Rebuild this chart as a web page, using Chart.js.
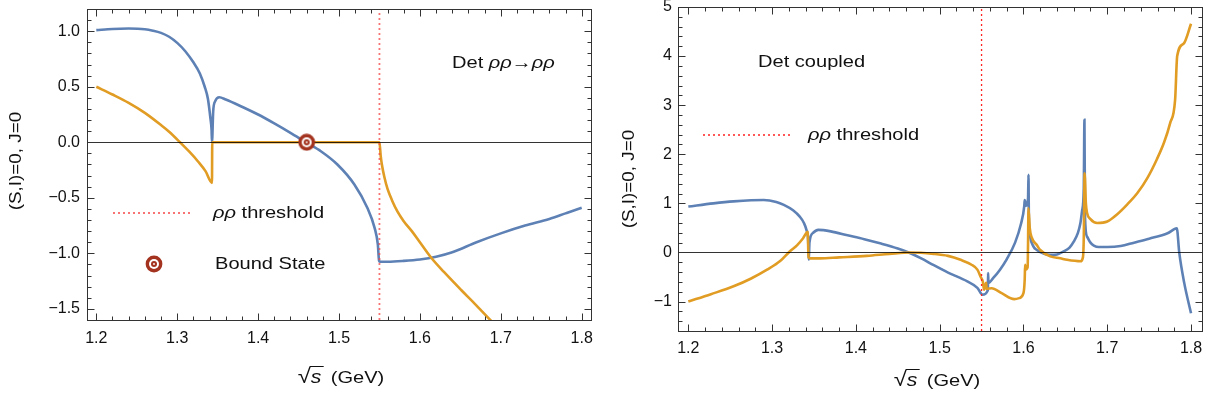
<!DOCTYPE html>
<html>
<head>
<meta charset="utf-8">
<script src="https://cdn.jsdelivr.net/npm/chart.js@4.4.0/dist/chart.umd.min.js"></script>
<style>
  body { margin: 0; background: #fff; }
  #wrap { position: relative; width: 1213px; height: 407px; }
  .panel { position: absolute; top: 0; height: 407px; }
</style>
</head>
<body>
<div id="wrap">
  <div class="panel" style="left:0;width:600px"><canvas id="leftChart"></canvas></div>
  <div class="panel" style="left:600px;width:613px"><canvas id="rightChart"></canvas></div>
</div>
<script>
// ---- data ----
const xTicks = [1.2, 1.3, 1.4, 1.5, 1.6, 1.7, 1.8];
const leftYTicks = [-1.5, -1.0, -0.5, 0.0, 0.5, 1.0];
const rightYTicks = [-1, 0, 1, 2, 3, 4, 5];
const threshold = 1.55;
const boundState = [1.46, 0];

// left panel: Det rho rho -> rho rho
const leftBlueX = [1.2, 1.22, 1.24, 1.26, 1.27, 1.28, 1.29, 1.30, 1.31, 1.32, 1.328, 1.334, 1.338, 1.341, 1.3425, 1.343,
  1.3445, 1.347, 1.352, 1.36, 1.38, 1.40, 1.42, 1.44, 1.459, 1.478, 1.498, 1.519, 1.535, 1.544, 1.548, 1.5495,
  1.5505, 1.56, 1.58, 1.60, 1.62, 1.64, 1.67, 1.70, 1.73, 1.76, 1.78, 1.80];
const leftBlueY = [1.01, 1.02, 1.024, 1.018, 1.005, 0.985, 0.95, 0.895, 0.82, 0.72, 0.62, 0.50, 0.39, 0.22, 0.11, 0.0,
  0.28, 0.37, 0.405, 0.385, 0.32, 0.25, 0.17, 0.085, 0.0, -0.083, -0.20, -0.38, -0.59, -0.77, -0.92, -1.065,
  -1.075, -1.075, -1.068, -1.055, -1.03, -0.99, -0.90, -0.82, -0.75, -0.69, -0.64, -0.59];
const leftOrangeX = [1.2, 1.22, 1.24, 1.26, 1.28, 1.29, 1.3035, 1.315, 1.326, 1.335, 1.343, 1.3433,
  1.40, 1.50, 1.55, 1.5515, 1.553, 1.556, 1.56, 1.566, 1.572, 1.58, 1.59, 1.60, 1.614, 1.63, 1.651, 1.67, 1.687, 1.70];
const leftOrangeY = [0.5, 0.43, 0.355, 0.265, 0.155, 0.095, 0.0, -0.085, -0.175, -0.26, -0.365, 0.0,
  0.0, 0.0, 0.0, -0.12, -0.2, -0.31, -0.42, -0.53, -0.62, -0.71, -0.80, -0.90, -1.04, -1.17, -1.33, -1.47, -1.6, -1.70];

// right panel: Det coupled
const rightBlueX = [1.2, 1.23, 1.254, 1.29, 1.305, 1.314, 1.325, 1.333, 1.338, 1.341, 1.343, 1.3438, 1.3446,
  1.349, 1.355, 1.37, 1.39, 1.41, 1.43, 1.45, 1.463, 1.478, 1.493, 1.51, 1.533, 1.545, 1.551, 1.5575, 1.5578,
  1.5582, 1.564, 1.572, 1.58, 1.59, 1.597, 1.601, 1.6015, 1.603, 1.6055, 1.606, 1.6065, 1.608, 1.612, 1.616,
  1.624, 1.632, 1.64, 1.648, 1.655, 1.66, 1.665, 1.668, 1.67, 1.672, 1.6728, 1.6735, 1.676, 1.68, 1.684,
  1.69, 1.70, 1.716, 1.732, 1.75, 1.772, 1.783, 1.786, 1.792, 1.80];
const rightBlueY = [0.935, 1.0, 1.04, 1.07, 1.03, 0.97, 0.86, 0.73, 0.6, 0.46, 0.26, -0.15, 0.2,
  0.40, 0.46, 0.43, 0.35, 0.27, 0.18, 0.08, 0.0, -0.12, -0.26, -0.41, -0.59, -0.72, -0.86, -0.77, -0.42,
  -0.62, -0.52, -0.35, -0.14, 0.2, 0.58, 0.95, 1.07, 0.95, 1.1, 1.58, 0.7, 0.32, 0.12, 0.05,
  -0.02, -0.05, -0.04, 0.02, 0.1, 0.22, 0.4, 0.6, 0.85, 1.3, 2.70, 0.7, 0.32, 0.2, 0.14,
  0.11, 0.11, 0.13, 0.2, 0.28, 0.39, 0.49, -0.01, -0.63, -1.24];
const rightOrangeX = [1.2, 1.227, 1.254, 1.275, 1.294, 1.31, 1.321, 1.33, 1.337, 1.3425, 1.3435, 1.345,
  1.357, 1.38, 1.413, 1.44, 1.465, 1.493, 1.51, 1.525, 1.538, 1.545, 1.549, 1.5515, 1.553, 1.5555, 1.556,
  1.562, 1.574, 1.589, 1.595, 1.60, 1.6015, 1.602, 1.6025, 1.605, 1.6055, 1.606, 1.6075, 1.61, 1.616,
  1.62, 1.632, 1.644, 1.652, 1.668, 1.671, 1.672, 1.673, 1.6745, 1.676, 1.68, 1.688, 1.70, 1.712, 1.724,
  1.736, 1.748, 1.759, 1.768, 1.775, 1.781, 1.7835, 1.7915, 1.80];
const rightOrangeY = [-1.0, -0.85, -0.69, -0.53, -0.35, -0.17, 0.02, 0.15, 0.29, 0.42, -0.1, -0.12,
  -0.12, -0.1, -0.07, -0.03, 0.0, -0.03, -0.07, -0.15, -0.25, -0.35, -0.5, -0.59, -0.76, -0.62, -0.74,
  -0.73, -0.83, -0.95, -0.93, -0.83, -0.55, -0.25, -0.35, -0.3, 0.2, 0.9, 0.5, 0.3, 0.15,
  0.05, -0.08, -0.12, -0.15, -0.18, -0.1, 0.3, 1.61, 1.0, 0.8, 0.68, 0.60, 0.63, 0.78, 0.98,
  1.21, 1.52, 1.89, 2.25, 2.63, 3.11, 4.0, 4.26, 4.66];

const BLUE = '#5E81B5';
const ORANGE = '#E19C24';
const MARK = '#A3321E';
const FONT = "'Liberation Sans', Arial, sans-serif";
const STRETCH = 1.18;   // the reference lettering is a bit wide

function pts(xs, ys) {
    return xs.map((x, i) => ({ x: x, y: ys[i] }));
}

function steps(a, b, step) {
    const out = [];
    const n = Math.round((b - a) / step);
    for (let i = 0; i <= n; i++) out.push(Math.round((a + i * step) * 1000) / 1000);
    return out;
}

function isMajor(v, majors) {
    for (let i = 0; i < majors.length; i++) {
        if (Math.abs(majors[i] - v) < 1e-6) return true;
    }
    return false;
}

// the "bound state" target symbol
function makeTarget() {
    const c = document.createElement('canvas');
    c.width = 18; c.height = 18;
    const g = c.getContext('2d');
    const disc = (r, col) => { g.beginPath(); g.arc(9, 9, r, 0, Math.PI * 2); g.fillStyle = col; g.fill(); };
    disc(8.4, MARK);
    disc(5.0, '#fff');
    disc(3.0, MARK);
    disc(0.9, '#fff');
    return c;
}
const target = makeTarget();

// per-chart decoration settings, kept outside the option resolver
const decor = {};

// draws text made of [string, italic] parts, stretched horizontally
function drawParts(ctx, parts, x, y, size) {
    ctx.save();
    ctx.translate(x, y);
    ctx.scale(STRETCH, 1);
    let cx = 0;
    parts.forEach(p => {
        ctx.font = (p[1] ? 'italic ' : '') + size + 'px ' + FONT;
        ctx.fillText(p[0], cx, 0);
        cx += ctx.measureText(p[0]).width;
    });
    ctx.restore();
}

// Mathematica-style frame: box, inner ticks, zero axis, annotations
const framePlugin = {
    id: 'frame',
    beforeDatasetDraw(chart, args) {
        if (args.index !== 0) return;
        const a = chart.chartArea;
        const y0 = Math.round(chart.scales.y.getPixelForValue(0)) + 0.5;
        const ctx = chart.ctx;
        ctx.save();
        ctx.strokeStyle = 'rgba(0,0,0,0.8)';
        ctx.lineWidth = 1;
        ctx.beginPath(); ctx.moveTo(a.left, y0); ctx.lineTo(a.right, y0); ctx.stroke();
        ctx.restore();
    },
    afterDraw(chart) {
        const o = decor[chart.canvas.id];
        const ctx = chart.ctx;
        const a = chart.chartArea;
        const xs = chart.scales.x, ys = chart.scales.y;
        const L = Math.round(a.left) + 0.5, R = Math.round(a.right) + 0.5;
        const T = Math.round(a.top) + 0.5, B = Math.round(a.bottom) + 0.5;
        ctx.save();
        ctx.setLineDash([]);
        ctx.globalAlpha = 1;
        ctx.strokeStyle = '#333';
        ctx.lineWidth = 1;
        ctx.strokeRect(L, T, R - L, B - T);

        // inner ticks on all four sides
        steps(1.2, 1.8, 0.02).forEach(v => {
            const len = isMajor(v, xTicks) ? 7 : 4;
            const px = Math.round(xs.getPixelForValue(v)) + 0.5;
            ctx.beginPath();
            ctx.moveTo(px, B); ctx.lineTo(px, B - len);
            ctx.moveTo(px, T); ctx.lineTo(px, T + len);
            ctx.stroke();
        });
        steps(o.yMinorFrom, o.yMinorTo, o.yMinor).forEach(v => {
            const len = isMajor(v, o.yMajors) ? 7 : 4;
            const py = Math.round(ys.getPixelForValue(v)) + 0.5;
            ctx.beginPath();
            ctx.moveTo(L, py); ctx.lineTo(L + len, py);
            ctx.moveTo(R, py); ctx.lineTo(R - len, py);
            ctx.stroke();
        });

        ctx.fillStyle = '#111';
        ctx.textBaseline = 'middle';
        ctx.textAlign = 'left';
        o.texts.forEach(t => drawParts(ctx, t.parts, t.x, t.y, 17));

        // legend: dotted threshold sample
        ctx.strokeStyle = o.dotColor;
        ctx.lineWidth = o.dotWidth;
        ctx.setLineDash([2, 3]);
        ctx.beginPath();
        ctx.moveTo(o.legLine[0], o.legLine[2]); ctx.lineTo(o.legLine[1], o.legLine[2]);
        ctx.stroke();
        ctx.setLineDash([]);
        if (o.legMark) ctx.drawImage(target, o.legMark[0] - 9, o.legMark[1] - 9);

        // y title
        ctx.save();
        ctx.translate(o.yTitle[0], o.yTitle[1]);
        ctx.rotate(-Math.PI / 2);
        ctx.scale(STRETCH, 1);
        ctx.textAlign = 'center';
        ctx.font = '16px ' + FONT;
        ctx.fillText('(S,I)=0, J=0', 0, 0);
        ctx.restore();

        // x title: sqrt(s) (GeV)
        ctx.save();
        ctx.translate(o.xTitle[0], o.xTitle[1]);
        ctx.scale(STRETCH, 1);
        ctx.textBaseline = 'alphabetic';
        ctx.font = '20px ' + FONT;
        const wR = ctx.measureText('√').width;
        ctx.font = 'italic 18px ' + FONT;
        const wS = ctx.measureText('s').width;
        ctx.font = '17px ' + FONT;
        const wG = ctx.measureText('(GeV)').width;
        let x = -(wR + wS + 8 + wG) / 2;
        ctx.font = '20px ' + FONT;
        ctx.fillText('√', x, 0);
        ctx.font = 'italic 18px ' + FONT;
        ctx.fillText('s', x + wR, 0);
        ctx.strokeStyle = '#111';
        ctx.lineWidth = 1;
        ctx.beginPath();
        ctx.moveTo(x + wR - 1, -16.5); ctx.lineTo(x + wR + wS + 2, -16.5);
        ctx.stroke();
        ctx.font = '17px ' + FONT;
        ctx.fillText('(GeV)', x + wR + wS + 8, 0);
        ctx.restore();
        ctx.restore();
    }
};

function lineSet(data, color) {
    return {
        data: data, borderColor: color, borderWidth: 2.6, pointRadius: 0,
        fill: false, cubicInterpolationMode: 'monotone'
    };
}

function makeChart(id, cfg) {
    decor[id] = cfg.frame;
    return new Chart(document.getElementById(id), {
        type: 'line',
        data: {
            datasets: [
                cfg.marker ? {
                    data: [{ x: boundState[0], y: boundState[1] }], pointStyle: target,
                    pointRadius: 9, showLine: false, borderWidth: 0
                } : { data: [] },
                {
                    data: [{ x: threshold, y: cfg.yMin }, { x: threshold, y: cfg.yMax }],
                    borderColor: cfg.dotColor, borderWidth: cfg.dotWidth, borderDash: [2, 3], pointRadius: 0
                },
                lineSet(pts(cfg.orangeX, cfg.orangeY), ORANGE),
                lineSet(pts(cfg.blueX, cfg.blueY), BLUE)
            ]
        },
        options: {
            responsive: true,
            maintainAspectRatio: false,
            animation: false,
            layout: { padding: { top: cfg.padTop, right: cfg.padRight, left: 0, bottom: 0 } },
            plugins: {
                legend: { display: false },
                tooltip: { enabled: false }
            },
            scales: {
                x: {
                    type: 'linear', min: cfg.xMin, max: cfg.xMax,
                    afterBuildTicks: s => { s.ticks = xTicks.map(v => ({ value: v })); },
                    afterFit: s => { s.height = cfg.xHeight; s.paddingLeft = 0; s.paddingRight = 0; },
                    grid: { display: false, drawTicks: false },
                    border: { display: false },
                    ticks: {
                        autoSkip: false, maxRotation: 0, padding: cfg.xPad, color: '#111',
                        font: { family: FONT, size: 16 },
                        callback: v => v.toFixed(1)
                    }
                },
                y: {
                    min: cfg.yMin, max: cfg.yMax,
                    afterBuildTicks: s => { s.ticks = cfg.yTicks.map(v => ({ value: v })); },
                    afterFit: s => { s.width = cfg.yWidth; s.paddingTop = 0; s.paddingBottom = 0; },
                    grid: { display: false, drawTicks: false },
                    border: { display: false },
                    ticks: {
                        autoSkip: false, padding: cfg.yPad, color: '#111',
                        font: { family: FONT, size: 16 },
                        callback: v => cfg.fmt(v)
                    }
                }
            }
        },
        plugins: [framePlugin]
    });
}

const minus = s => s.replace('-', '\u2212');

makeChart('leftChart', {
    blueX: leftBlueX, blueY: leftBlueY, orangeX: leftOrangeX, orangeY: leftOrangeY,
    marker: true,
    xMin: 1.1885, xMax: 1.8115, yMin: -1.6, yMax: 1.2, yTicks: leftYTicks,
    fmt: v => minus(v.toFixed(1)),
    padTop: 6, padRight: 7, yWidth: 87, xHeight: 87, xPad: 9, yPad: 7,
    dotColor: 'rgba(245,70,70,0.75)', dotWidth: 1.8,
    frame: {
        yMinorFrom: -1.6, yMinorTo: 1.2, yMinor: 0.1, yMajors: leftYTicks,
        dotColor: 'rgba(245,70,70,0.75)', dotWidth: 1.8,
        legLine: [113, 190, 213], legMark: [154, 264],
        yTitle: [17, 161], xTitle: [341, 383],
        texts: [
            { parts: [['Det ', false], ['ρρ', true], ['→', false], ['ρρ', true]], x: 452, y: 63 },
            { parts: [['ρρ', true], [' threshold', false]], x: 213, y: 213 },
            { parts: [['Bound State', false]], x: 215, y: 264 }
        ]
    }
});

makeChart('rightChart', {
    blueX: rightBlueX, blueY: rightBlueY, orangeX: rightOrangeX, orangeY: rightOrangeY,
    marker: false,
    xMin: 1.1877, xMax: 1.8131, yMin: -1.6, yMax: 5, yTicks: rightYTicks,
    fmt: v => minus(String(v)),
    padTop: 7, padRight: 11, yWidth: 78, xHeight: 76, xPad: 8, yPad: 6,
    dotColor: '#f22', dotWidth: 1.3,
    frame: {
        yMinorFrom: -1.6, yMinorTo: 5, yMinor: 0.2, yMajors: rightYTicks,
        dotColor: '#f22', dotWidth: 1.3,
        legLine: [103, 190, 135], legMark: null,
        yTitle: [30, 179], xTitle: [337, 386],
        texts: [
            { parts: [['Det coupled', false]], x: 158, y: 62 },
            { parts: [['ρρ', true], [' threshold', false]], x: 208, y: 135 }
        ]
    }
});
</script>
</body>
</html>
